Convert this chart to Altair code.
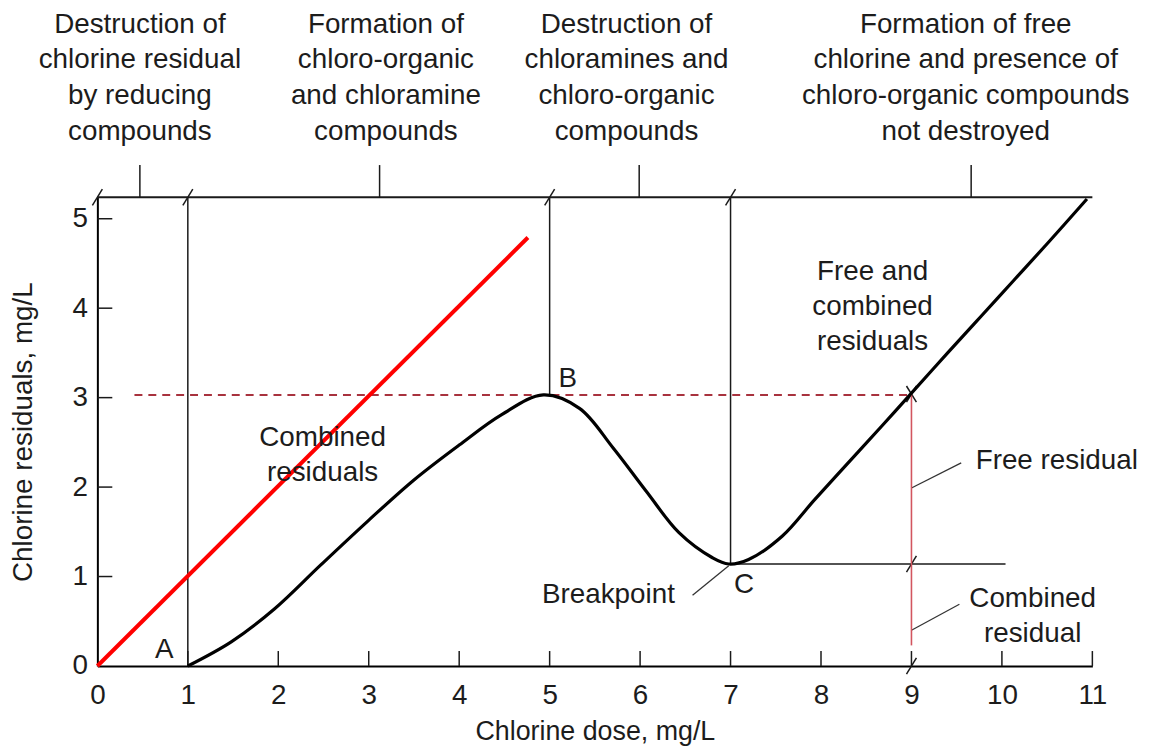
import altair as alt
import pandas as pd

FONT = "Liberation Sans"
TXT = "#1c1c1c"
LINE = "#1a1a1a"
FS = 28

# ---------------- data ----------------
Y_TOP = 5.24
X_MAX = 11

curve_x = [1.0, 1.48, 1.96, 2.47, 2.99, 3.5, 4.0, 4.47, 4.93, 5.33, 5.7, 6.07, 6.43,
           6.8, 6.98, 7.2, 7.57, 7.93, 8.3, 8.67, 9.0, 9.4, 9.77, 10.13, 10.5, 10.94]
curve_y = [0.0, 0.27, 0.64, 1.13, 1.62, 2.08, 2.47, 2.81, 3.03, 2.88, 2.44, 1.95, 1.49,
           1.21, 1.14, 1.19, 1.45, 1.86, 2.27, 2.68, 3.05, 3.5, 3.91, 4.31, 4.72, 5.22]

demand_x = [0.0, 4.76]
demand_y = [0.0, 4.79]

x_ticks = list(range(0, 12))
y_ticks = list(range(0, 6))

# region boundary lines (x, from y, to y)
vline_x = [1, 5, 7]
vline_y0 = [0.0, 3.03, 1.14]

# zone label ticks above the frame
zone_tick_x = [0.47, 3.12, 5.99, 9.66]
zone_tick_len = 0.36

zone_x = [0.47, 3.19, 5.85, 9.6]
zone_text = [
    ["Destruction of", "chlorine residual", "by reducing", "compounds"],
    ["Formation of", "chloro-organic", "and chloramine", "compounds"],
    ["Destruction of", "chloramines and", "chloro-organic", "compounds"],
    ["Formation of free", "chlorine and presence of", "chloro-organic compounds", "not destroyed"],
]
zone_y = 7.17   # first text line

breakpoint_x = 6.98
breakpoint_y = 1.14
breakpoint_end = 10.04

ref_level = 3.03
ref_dash_start = 0.41
ref_x = 9.0
ref_bottom = 0.23

slash_x = [0, 1, 5, 7, 9, 9, 9]
slash_y = [Y_TOP, Y_TOP, Y_TOP, Y_TOP, 0.0, 1.14, 3.04]

leader_x = [6.58, 9.0, 9.0]
leader_y = [0.79, 1.99, 0.40]
leader_x2 = [6.98, 9.55, 9.53]
leader_y2 = [1.12, 2.27, 0.69]

note_text = [["A"], ["B"], ["C"], ["Breakpoint"], ["Combined", "residuals"],
             ["Free and", "combined", "residuals"], ["Combined", "residual"]]
note_x = [0.74, 5.2, 7.15, 5.65, 2.49, 8.57, 10.34]
note_y = [0.18, 3.21, 0.9, 0.79, 2.55, 4.40, 0.75]   # first text line

free_text = ["Free residual"]
free_x = [9.71]
free_y = [2.29]

# ---------------- scales / encodings ----------------
xs = alt.Scale(domain=[0, X_MAX], nice=False, zero=False)
ys = alt.Scale(domain=[0, Y_TOP], nice=False, zero=False)
x_axis = alt.Axis(values=x_ticks, title="Chlorine dose, mg/L", labelPadding=16,
                  titlePadding=9, titleFontSize=27, labelFlush=False)
y_axis = alt.Axis(values=y_ticks, title="Chlorine residuals, mg/L", labelPadding=10,
                  titlePadding=35, labelFlush=False)


def X(f="x"):
    return alt.X(f"{f}:Q", scale=xs, axis=x_axis)


def Y(f="y"):
    return alt.Y(f"{f}:Q", scale=ys, axis=y_axis)


curve_df = pd.DataFrame({"x": curve_x, "y": curve_y})
demand_df = pd.DataFrame({"x": demand_x, "y": demand_y})

vline_df = pd.DataFrame({"x": vline_x, "y": vline_y0, "y2": [Y_TOP] * len(vline_x)})
frame_df = pd.DataFrame({"x": [0], "x2": [X_MAX], "y": [Y_TOP]})
bp_df = pd.DataFrame({"x": [breakpoint_x], "x2": [breakpoint_end], "y": [breakpoint_y]})
ztick_df = pd.DataFrame({"x": zone_tick_x, "y": [Y_TOP] * 4,
                         "y2": [Y_TOP + zone_tick_len] * 4})

xtick_df = pd.DataFrame({"x": x_ticks[1:], "y": [0.0] * (len(x_ticks) - 1),
                         "y2": [0.167] * (len(x_ticks) - 1)})
ytick_df = pd.DataFrame({"y": y_ticks[1:], "x": [0.0] * (len(y_ticks) - 1),
                         "x2": [0.165] * (len(y_ticks) - 1)})

sd_x, sd_y = 0.055, 0.09
slash_df = pd.DataFrame({"x": [v - sd_x for v in slash_x], "x2": [v + sd_x for v in slash_x],
                         "y": [v - sd_y for v in slash_y], "y2": [v + sd_y for v in slash_y]})
bslash_df = pd.DataFrame({"x": [ref_x - sd_x], "x2": [ref_x + sd_x],
                          "y": [slash_y[-1] + sd_y], "y2": [slash_y[-1] - sd_y]})

dash_df = pd.DataFrame({"x": [ref_dash_start], "x2": [ref_x], "y": [ref_level]})
redv_df = pd.DataFrame({"x": [ref_x], "y": [ref_bottom], "y2": [ref_level]})
leader_df = pd.DataFrame({"x": leader_x, "y": leader_y, "x2": leader_x2, "y2": leader_y2})

zone_df = pd.DataFrame({"x": zone_x, "y": [zone_y] * 4, "t": zone_text})
note_df = pd.DataFrame({"x": note_x, "y": note_y, "t": note_text})
free_df = pd.DataFrame({"x": free_x, "y": free_y, "t": free_text})

# ---------------- layers ----------------
rule_style = dict(color=LINE, strokeWidth=1.5)

vlines = alt.Chart(vline_df).mark_rule(**rule_style).encode(x=X(), y=Y(), y2="y2:Q")
frame = alt.Chart(frame_df).mark_rule(color=LINE, strokeWidth=2).encode(x=X(), x2="x2:Q", y=Y())
bp_line = alt.Chart(bp_df).mark_rule(**rule_style).encode(x=X(), x2="x2:Q", y=Y())
zticks = alt.Chart(ztick_df).mark_rule(**rule_style).encode(x=X(), y=Y(), y2="y2:Q")
xticks = alt.Chart(xtick_df).mark_rule(**rule_style).encode(x=X(), y=Y(), y2="y2:Q")
yticks = alt.Chart(ytick_df).mark_rule(**rule_style).encode(x=X(), x2="x2:Q", y=Y())
slashes = alt.Chart(slash_df).mark_rule(**rule_style).encode(x=X(), x2="x2:Q", y=Y(), y2="y2:Q")
bslashes = alt.Chart(bslash_df).mark_rule(**rule_style).encode(x=X(), x2="x2:Q", y=Y(), y2="y2:Q")
leaders = alt.Chart(leader_df).mark_rule(color="#333", strokeWidth=1.3).encode(
    x=X(), x2="x2:Q", y=Y(), y2="y2:Q")

dashed = alt.Chart(dash_df).mark_rule(color="#a8323e", strokeWidth=2, strokeDash=[8, 6]).encode(
    x=X(), x2="x2:Q", y=Y())
red_v = alt.Chart(redv_df).mark_rule(color="#d2555f", strokeWidth=1.6).encode(
    x=X(), y=Y(), y2="y2:Q")

curve = alt.Chart(curve_df).mark_line(color="black", strokeWidth=3.2,
                                      interpolate="catmull-rom").encode(x=X(), y=Y())
demand = alt.Chart(demand_df).mark_line(color="#ff0000", strokeWidth=4).encode(x=X(), y=Y())

zone_labels = alt.Chart(zone_df).mark_text(font=FONT, fontSize=FS, color=TXT, align="center",
                                           baseline="middle", lineHeight=36).encode(
    x=X(), y=Y(), text="t")
notes = alt.Chart(note_df).mark_text(font=FONT, fontSize=FS, color=TXT, align="center",
                                     baseline="middle", lineHeight=35).encode(
    x=X(), y=Y(), text="t")
free_lbl = alt.Chart(free_df).mark_text(font=FONT, fontSize=FS, color=TXT, align="left",
                                        baseline="middle").encode(x=X(), y=Y(), text="t")

chart = alt.layer(
    vlines, frame, bp_line, zticks, xticks, yticks, slashes, bslashes, leaders,
    dashed, red_v, curve, demand, zone_labels, notes, free_lbl
).properties(
    width=1002, height=472,
    padding={"left": 90, "top": 188, "right": 52, "bottom": 80},
    autosize=alt.AutoSizeParams(type="none"),
).configure_view(stroke=None).configure_axis(
    grid=False, ticks=False, domainColor="black", domainWidth=2,
    labelFont=FONT, labelFontSize=FS, labelColor=TXT,
    titleFont=FONT, titleFontSize=FS, titleFontWeight="normal", titleColor=TXT,
    labelOverlap=False,
)

chart.save("out.html", embed_options={"renderer": "svg", "actions": False})
